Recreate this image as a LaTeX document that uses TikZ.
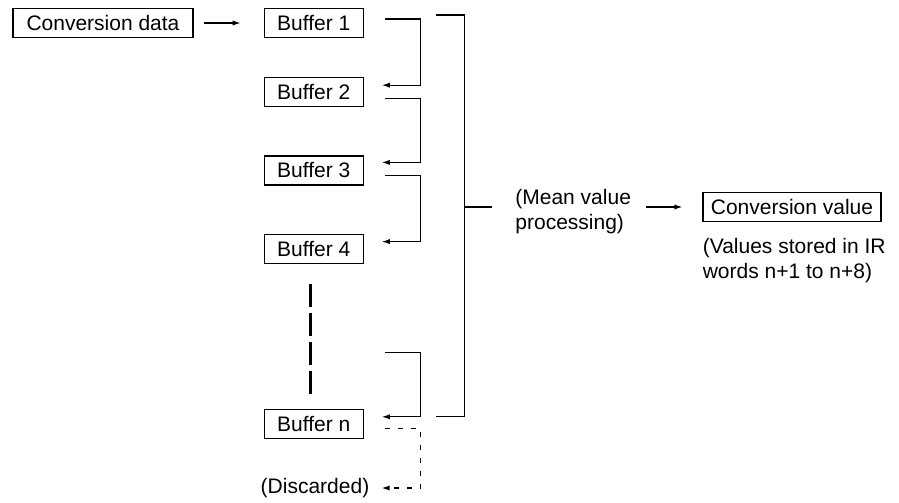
\documentclass[tikz,border=0pt]{standalone}
\usepackage{fontspec}
\setmainfont{Liberation Sans}
\usetikzlibrary{arrows.meta,positioning}

\begin{document}
\begin{tikzpicture}[
	x=0.5pt, y=-0.5pt,
	every node/.style={font=\fontsize{10.5}{12.5}\selectfont},
	box/.style={rectangle, draw, line width=0.6pt, minimum height=14.5pt, inner sep=2pt},
	buffer/.style={box, minimum width=49.5pt},
	note/.style={align=left, inner sep=0pt},
	line/.style={line width=0.6pt, -{Latex[length=4pt,width=2.6pt]}},
	link/.style={line width=0.6pt},
	discard/.style={line, dash pattern=on 2.5pt off 4pt},
	gapdash/.style={line width=1.5pt, dash pattern=on 11.5pt off 3pt}
]
\useasboundingbox (0,0) rectangle (899,503);

\node[box, minimum width=90pt] (data) at (103,23) {Conversion data};
\node[buffer, right=35pt of data] (buf1) {Buffer 1};
\node[buffer, below=19.5pt of buf1] (buf2) {Buffer 2};
\node[buffer, below=24pt of buf2] (buf3) {Buffer 3};
\node[buffer, below=24pt of buf3] (buf4) {Buffer 4};
\node[buffer, below=72.75pt of buf4] (bufn) {Buffer n};
\node[note] (disc) at (315,488) {(Discarded)};

\node[box, minimum width=89pt] (conv) at (792,207) {Conversion value};
\node[note, anchor=west] (mean) at (515,212) {(Mean value\\processing)};
\node[note, anchor=north west] (stored) at ([yshift=-8pt]conv.south west) {(Values stored in IR\\words n+1 to n+8)};

\draw[line, shorten <=5pt, shorten >=11.5pt] (data) -- (buf1);

% shifting from one buffer to the next
\draw[line] ([xshift=10.5pt,yshift=2pt]buf1.east) -- ++(18pt,0) |- ([xshift=9pt,yshift=3.5pt]buf2.east);
\draw[line] ([xshift=10.5pt,yshift=-3pt]buf2.east) -- ++(18pt,0) |- ([xshift=9pt,yshift=4pt]buf3.east);
\draw[line] ([xshift=10.5pt,yshift=-2.5pt]buf3.east) -- ++(18pt,0) |- ([xshift=9pt,yshift=3.5pt]buf4.east);
\coordinate (more) at ([xshift=10.5pt,yshift=35.75pt]bufn.east);
\draw[line] (more) -- ++(18pt,0) |- ([xshift=9pt,yshift=3.75pt]bufn.east);
\draw[discard] ([xshift=10.5pt,yshift=-2.25pt]bufn.east) -- ++(18pt,0) |- ([xshift=6pt]disc.east);

\draw[gapdash] ([xshift=-1.75pt,yshift=-10pt]buf4.south) -- ([xshift=-1.75pt,yshift=6pt]bufn.north);

% bracket over all buffers
\coordinate (brtop) at ([xshift=36pt,yshift=4pt]buf1.east);
\coordinate (brbot) at ([xshift=36pt,yshift=3.75pt]bufn.east);
\draw[link] (brtop) -- ++(14.5pt,0) coordinate (brside) |- (brbot);
\draw[link] (brside |- conv) -- ([xshift=-11.5pt]mean.west |- conv);

\draw[line, shorten <=7.5pt, shorten >=10pt] (mean.east |- conv) -- (conv);
\end{tikzpicture}
\end{document}
